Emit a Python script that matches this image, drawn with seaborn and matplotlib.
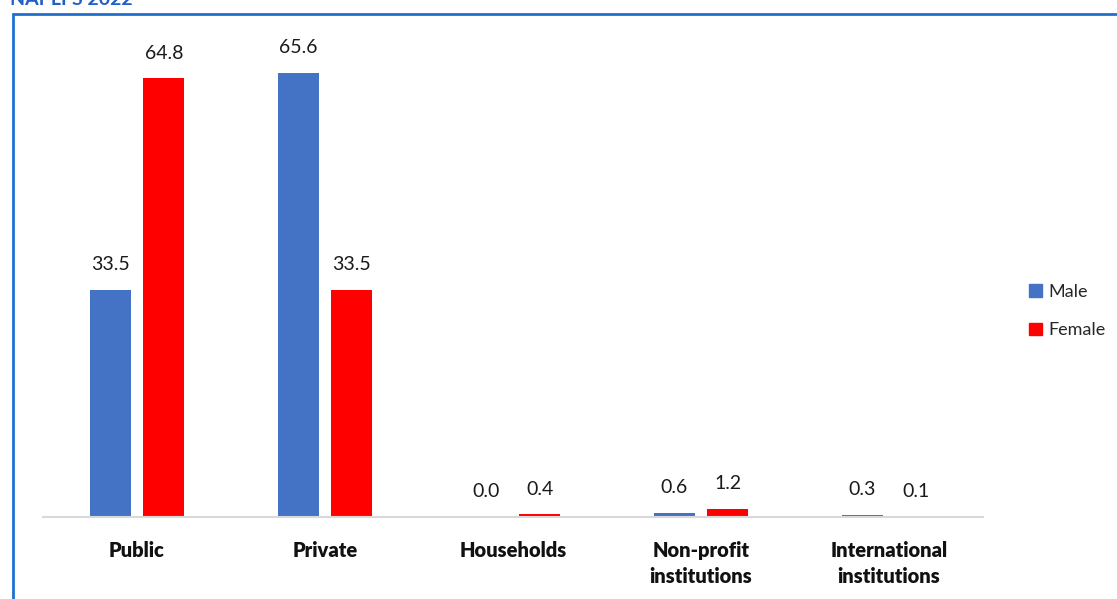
import matplotlib
matplotlib.use("Agg")
import matplotlib.pyplot as plt
from matplotlib.patches import Rectangle
import seaborn as sns
import pandas as pd

categories = ["Public", "Private", "Households", "Non-profit\ninstitutions", "International\ninstitutions"]
male = [33.5, 65.6, 0.0, 0.6, 0.3]
female = [64.8, 33.5, 0.4, 1.2, 0.1]
series = ["Male", "Female"]
colors = {"Male": "#4472C4", "Female": "#FF0000"}

df = pd.DataFrame({
    "Sector": categories * 2,
    "Sex": ["Male"] * len(categories) + ["Female"] * len(categories),
    "Share": male + female,
})

sns.set_theme(style="white")
plt.rcParams["font.family"] = ["Lato", "DejaVu Sans"]

W, H = 1117, 599
fig = plt.figure(figsize=(W / 100, H / 100), dpi=100)
ax = fig.add_axes([43 / W, 1 - 517 / H, 940 / W, (517 - 43) / H])

sns.barplot(data=df, x="Sector", y="Share", hue="Sex", hue_order=series,
            palette=colors, width=0.57, gap=0.235, saturation=1,
            linewidth=0, legend=False, ax=ax)

ax.set_xlim(-0.5, 4.5)
ax.set_ylim(0, 70)

for cont in ax.containers:
    ax.bar_label(cont, fmt="%.1f", padding=12, fontsize=14, color="#1a1a1a")

for s in ["top", "right", "left"]:
    ax.spines[s].set_visible(False)
ax.spines["bottom"].set_color("#D9D9D9")
ax.spines["bottom"].set_linewidth(1.5)
ax.set_yticks([])
ax.set_xlabel("")
ax.set_ylabel("")
ax.tick_params(axis="x", length=0, pad=17)
for lab in ax.get_xticklabels():
    lab.set_fontweight("heavy")
    lab.set_fontsize(14.5)
    lab.set_color("#111111")
    lab.set_linespacing(1.45)

# legend on the right
handles = [Rectangle((0, 0), 1, 1, color=colors[s]) for s in series]
fig.legend(handles, series, loc="center left", bbox_to_anchor=(1013 / W, 1 - 311 / H),
           frameon=False, fontsize=13, handlelength=0.7, handleheight=0.7,
           handletextpad=0.35, labelspacing=1.25)

# outer frame
fig.patches.append(Rectangle((13 / W, -0.05), 1.2, 1 - 14 / H + 0.05,
                             transform=fig.transFigure, fill=False,
                             edgecolor="#1F6FD0", linewidth=2, clip_on=False))

fig.text(10 / W, 1 - 5 / H, "NAPLFS 2022", color="#1F5FC8", fontsize=14,
         fontweight="bold", va="baseline", ha="left")

fig.savefig("out.png", dpi=100)
